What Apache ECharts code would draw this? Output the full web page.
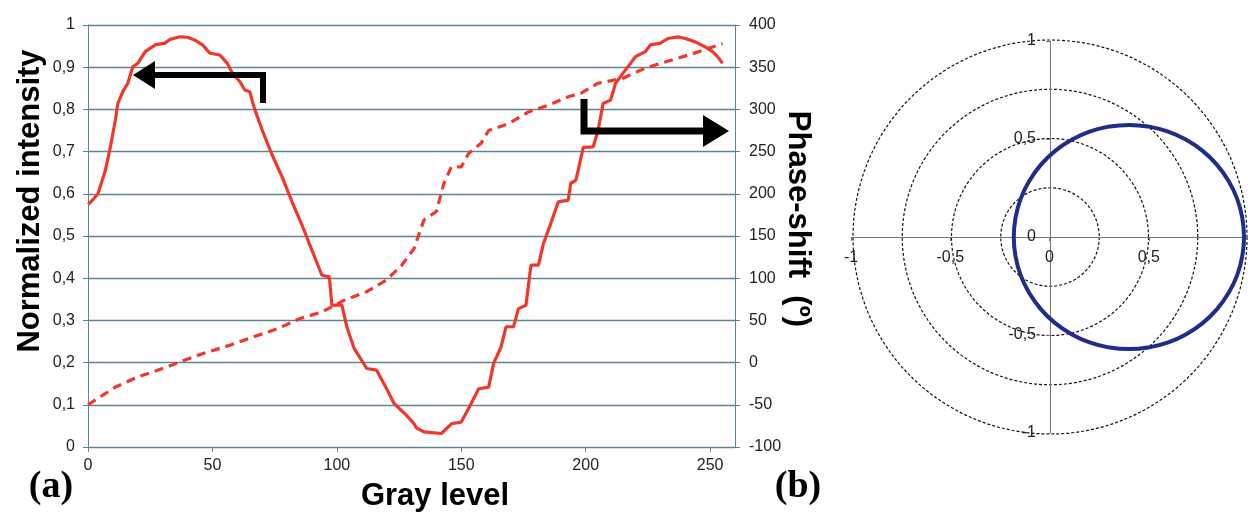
<!DOCTYPE html>
<html>
<head>
<meta charset="utf-8">
<script src="https://cdn.jsdelivr.net/npm/echarts@6/dist/echarts.min.js"></script>
<style>
html,body{margin:0;padding:0;background:#fff;}
#chart{width:1248px;height:513px;}
</style>
</head>
<body>
<div id="chart"></div>
<script>
// Gray level vs normalized intensity (solid, left axis)
const grayIntensity = [0, 1, 4, 7, 9, 11, 12, 14, 16, 18, 20, 23, 27, 31, 33, 37, 40, 43, 46, 49, 53, 56, 58, 61, 63, 65, 66, 67, 70, 74, 78, 82, 86, 90, 94, 97, 98, 102, 104, 107, 112, 116, 120, 123, 128, 131, 132, 135, 142, 146, 150, 154, 157, 161, 163, 166, 168, 171, 173, 176, 178, 181, 183, 186, 189, 193, 194, 196, 197, 199, 203, 205, 207, 210, 212, 215, 218, 220, 224, 226, 230, 233, 237, 240, 244, 248, 251, 253, 255];
const intensity = [0.575, 0.58, 0.60, 0.656, 0.711, 0.775, 0.814, 0.842, 0.862, 0.901, 0.909, 0.937, 0.953, 0.957, 0.966, 0.972, 0.971, 0.964, 0.953, 0.933, 0.929, 0.909, 0.886, 0.866, 0.846, 0.842, 0.82, 0.80, 0.751, 0.692, 0.640, 0.581, 0.526, 0.466, 0.407, 0.403, 0.336, 0.336, 0.285, 0.233, 0.186, 0.182, 0.138, 0.103, 0.075, 0.055, 0.045, 0.036, 0.032, 0.055, 0.059, 0.103, 0.138, 0.142, 0.198, 0.237, 0.285, 0.285, 0.328, 0.336, 0.431, 0.431, 0.482, 0.530, 0.581, 0.585, 0.625, 0.632, 0.656, 0.71, 0.711, 0.751, 0.814, 0.822, 0.862, 0.886, 0.909, 0.925, 0.937, 0.953, 0.957, 0.968, 0.972, 0.968, 0.960, 0.948, 0.937, 0.925, 0.909];

// Gray level vs phase-shift in degrees (dashed, right axis)
const grayPhase = [0, 11, 20, 30, 39, 48, 57, 65, 76, 85, 94, 103, 112, 120, 126, 131, 135, 140, 143, 146, 150, 153, 158, 161, 169, 177, 185, 193, 198, 205, 215, 224, 234, 243, 255];
const phase = [-50, -29, -17, -7, 3, 12.5, 20.5, 29, 40, 52, 60, 74, 84, 98, 115, 135, 169, 179, 212, 232, 232, 248, 260, 275, 283, 297, 305, 315, 319, 331, 337, 349, 358, 366, 378];

// Complex-plane trajectory (panel b)
const circleX = [0.98, 0.971, 0.945, 0.902, 0.844, 0.773, 0.69, 0.598, 0.501, 0.40, 0.299, 0.202, 0.11, 0.027, -0.044, -0.102, -0.145, -0.171, -0.18, -0.171, -0.145, -0.102, -0.044, 0.027, 0.11, 0.202, 0.299, 0.40, 0.501, 0.598, 0.69, 0.773, 0.844, 0.902, 0.945, 0.971, 0.98];
const circleY = [0.0, 0.099, 0.196, 0.286, 0.368, 0.438, 0.495, 0.538, 0.563, 0.572, 0.563, 0.538, 0.495, 0.438, 0.368, 0.286, 0.196, 0.099, 0.0, -0.099, -0.196, -0.286, -0.368, -0.438, -0.495, -0.538, -0.563, -0.572, -0.563, -0.538, -0.495, -0.438, -0.368, -0.286, -0.196, -0.099, 0.0];

const leftTicks = {min: 0, max: 1, interval: 0.1};
const rightTicks = {min: -100, max: 400, interval: 50};
const xTicks = {min: 0, max: 260, interval: 50};
const polarTicks = {min: -1, max: 1, interval: 0.5};

const comma = v => String(Number(Number(v).toFixed(2))).replace('.', ',');

const chart = echarts.init(document.getElementById('chart'), null, {renderer: 'canvas'});
const gridColor = '#5b8696';
const red = '#f0382a';
const crossColor = '#7d7472';
const labelStyle = {color: '#222', fontSize: 16, fontFamily: 'Liberation Sans, Arial, sans-serif'};

chart.setOption({
  animation: false,
  backgroundColor: '#fff',
  grid: [
    {left: 88, right: 513, top: 25, bottom: 66, containLabel: false},
    {left: 851, top: 41, width: 398, height: 392, containLabel: false}
  ],
  polar: {center: [1050, 237], radius: 197},
  angleAxis: {
    show: true, min: 0, max: 360,
    axisLine: {show: false}, axisTick: {show: false}, axisLabel: {show: false}, splitLine: {show: false}
  },
  radiusAxis: {
    min: 0, max: 1, interval: 0.25,
    axisLine: {show: false}, axisTick: {show: false}, axisLabel: {show: false},
    splitLine: {show: true, lineStyle: {color: '#111', width: 1.2, type: [3, 2]}}
  },
  xAxis: [
    {
      type: 'value', gridIndex: 0, min: xTicks.min, max: xTicks.max, interval: xTicks.interval,
      axisLine: {lineStyle: {color: gridColor, width: 1}},
      axisTick: {show: true, length: 5, lineStyle: {color: gridColor}},
      axisLabel: Object.assign({margin: 11, showMaxLabel: false}, labelStyle),
      splitLine: {show: false}
    },
    {
      type: 'value', gridIndex: 1, min: polarTicks.min, max: polarTicks.max, interval: polarTicks.interval,
      position: 'bottom', offset: -196,
      axisLine: {onZero: false, lineStyle: {color: crossColor, width: 1}},
      axisTick: {show: true, length: 4, lineStyle: {color: crossColor}},
      axisLabel: Object.assign({margin: 13, showMaxLabel: false, formatter: comma}, labelStyle),
      splitLine: {show: false}
    }
  ],
  yAxis: [
    {
      type: 'value', gridIndex: 0, min: leftTicks.min, max: leftTicks.max, interval: leftTicks.interval,
      axisLine: {show: true, lineStyle: {color: gridColor, width: 1}},
      axisTick: {show: true, length: 5, lineStyle: {color: gridColor}},
      axisLabel: Object.assign({margin: 13, formatter: comma}, labelStyle),
      splitLine: {show: true, lineStyle: {color: gridColor, width: 1.3}}
    },
    {
      type: 'value', gridIndex: 0, position: 'right', min: rightTicks.min, max: rightTicks.max, interval: rightTicks.interval,
      axisLine: {show: true, lineStyle: {color: gridColor, width: 1}},
      axisTick: {show: true, length: 5, lineStyle: {color: gridColor}},
      axisLabel: Object.assign({margin: 14}, labelStyle),
      splitLine: {show: false}
    },
    {
      type: 'value', gridIndex: 1, min: polarTicks.min, max: polarTicks.max, interval: polarTicks.interval,
      position: 'left', offset: -199,
      axisLine: {show: true, onZero: false, lineStyle: {color: crossColor, width: 1}},
      axisTick: {show: true, length: 4, lineStyle: {color: crossColor}},
      axisLabel: Object.assign({margin: 14, formatter: comma}, labelStyle),
      splitLine: {show: false}
    }
  ],
  series: [
    {
      type: 'line', xAxisIndex: 0, yAxisIndex: 0, symbol: 'none',
      data: grayIntensity.map((g, i) => [g, intensity[i]]),
      lineStyle: {color: red, width: 3.2}, z: 3
    },
    {
      type: 'line', xAxisIndex: 0, yAxisIndex: 1, symbol: 'none',
      data: grayPhase.map((g, i) => [g, phase[i]]),
      lineStyle: {color: red, width: 3.2, type: [9, 6]}, z: 3
    },
    {
      type: 'line', xAxisIndex: 1, yAxisIndex: 2, symbol: 'none', smooth: 0.5,
      data: circleX.map((x, i) => [x, circleY[i]]),
      lineStyle: {color: '#1f2c88', width: 4}, z: 4
    }
  ],
  graphic: [
    // arrows
    {type: 'polyline', shape: {points: [[263, 103], [263, 75], [152, 75]]}, style: {stroke: '#000', lineWidth: 6, fill: null}, z: 10},
    {type: 'polygon', shape: {points: [[133, 75], [155, 61], [155, 89]]}, style: {fill: '#000'}, z: 10},
    {type: 'polyline', shape: {points: [[584, 99], [584, 131], [705, 131]]}, style: {stroke: '#000', lineWidth: 7, fill: null}, z: 10},
    {type: 'polygon', shape: {points: [[729, 131], [703, 115], [703, 147]]}, style: {fill: '#000'}, z: 10},
    // axis titles
    {type: 'text', x: 30, y: 201, rotation: Math.PI / 2,
      style: {text: 'Normalized intensity', fill: '#000', font: 'bold 31px "Liberation Sans", Arial, sans-serif', align: 'center', verticalAlign: 'middle'}},
    {type: 'text', x: 798, y: 219, rotation: -Math.PI / 2,
      style: {text: 'Phase-shift  (º)', fill: '#000', font: 'bold 31px "Liberation Sans", Arial, sans-serif', align: 'center', verticalAlign: 'middle'}},
    {type: 'text', x: 435, y: 496,
      style: {text: 'Gray level', fill: '#000', font: 'bold 31px "Liberation Sans", Arial, sans-serif', align: 'center', verticalAlign: 'middle'}},
    {type: 'text', x: 51, y: 487,
      style: {text: '(a)', fill: '#000', font: 'bold 38px "Liberation Serif", "Times New Roman", serif', align: 'center', verticalAlign: 'middle'}},
    {type: 'text', x: 798, y: 487,
      style: {text: '(b)', fill: '#000', font: 'bold 38px "Liberation Serif", "Times New Roman", serif', align: 'center', verticalAlign: 'middle'}}
  ]
});
</script>
</body>
</html>
